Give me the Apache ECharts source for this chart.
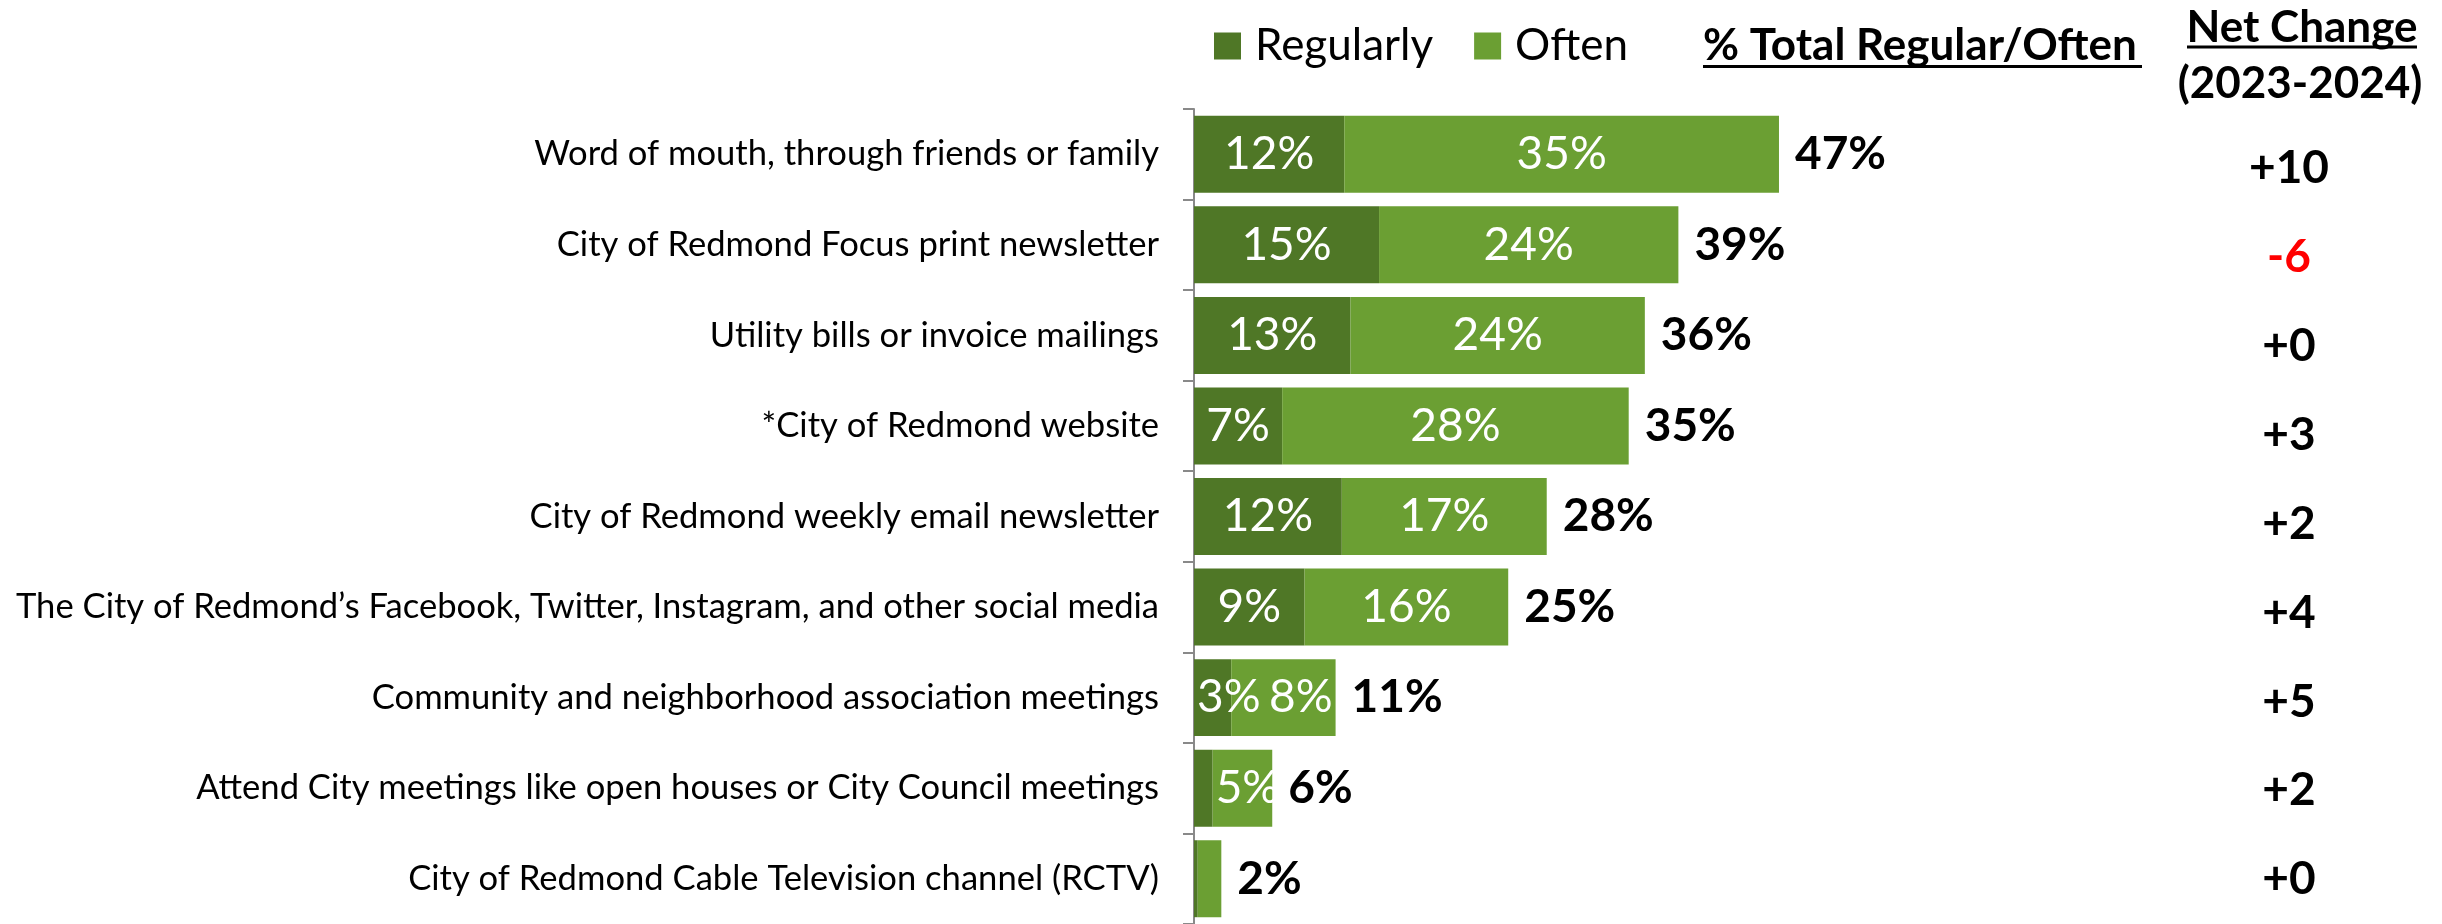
<!DOCTYPE html>
<html>
<head>
<meta charset="utf-8">
<script src="https://cdn.jsdelivr.net/npm/echarts@6/dist/echarts.min.js"></script>
<style>
html, body { margin: 0; padding: 0; background: #fff; }
#chart { width: 2442px; height: 924px; }
</style>
</head>
<body>
<div id="chart"></div>
<script>
var categories = [
	'Word of mouth, through friends or family',
	'City of Redmond Focus print newsletter',
	'Utility bills or invoice mailings',
	'*City of Redmond website',
	'City of Redmond weekly email newsletter',
	'The City of Redmond\u2019s Facebook, Twitter, Instagram, and other social media',
	'Community and neighborhood association meetings',
	'Attend City meetings like open houses or City Council meetings',
	'City of Redmond Cable Television channel (RCTV)'
];
var regularly = [12.1, 14.9, 12.6, 7.1, 11.9, 8.9, 3.0, 1.5, 0.3];
var often = [35.0, 24.1, 23.7, 27.9, 16.5, 16.4, 8.4, 4.8, 1.9];
var netChange = ['+10', '-6', '+0', '+3', '+2', '+4', '+5', '+2', '+0'];

var totals = [];
var anchor = [];
for (var i = 0; i < categories.length; i++) {
	totals.push(regularly[i] + often[i]);
	anchor.push(0);
}

var FONT = 'Lato, "Open Sans", sans-serif';
var darkGreen = '#4f7726';
var lightGreen = '#6b9f33';

function segLabel(p) {
	// small segments have no label in the original
	if (p.value < 2.5) return '';
	return Math.round(p.value) + '%';
}

// narrow segments: label pushed to one edge instead of centered
function segData(arr, midPos) {
	return arr.map(function(v) {
		if (v >= 2.5 && v < 5) {
			return { value: v, label: { position: 'insideLeft', distance: 3 } };
		}
		if (midPos && v >= 5 && v < 10) {
			return { value: v, label: { position: midPos, distance: 3 } };
		}
		return v;
	});
}

var chart = echarts.init(document.getElementById('chart'));
var option = {
	animation: false,
	textStyle: { fontFamily: FONT },
	legend: {
		data: ['Regularly', 'Often'],
		left: 1214,
		top: 24,
		padding: 0,
		itemWidth: 27,
		itemHeight: 27,
		itemGap: 41,
		icon: 'rect',
		textStyle: {
			fontFamily: FONT,
			fontSize: 44,
			color: '#000',
			padding: [0, 0, 0, 9]
		}
	},
	grid: [{
		left: 1194,
		top: 109,
		width: 1242,
		height: 817
	}, {
		left: 2289,
		top: 124,
		width: 1,
		height: 806
	}],
	xAxis: [{
		type: 'value',
		gridIndex: 0,
		min: 0,
		max: 100,
		show: false
	}, {
		type: 'value',
		gridIndex: 1,
		min: 0,
		max: 1,
		show: false
	}],
	yAxis: [{
		type: 'category',
		gridIndex: 0,
		inverse: true,
		data: categories,
		axisLine: {
			show: true,
			lineStyle: { color: '#898989', width: 2 }
		},
		axisTick: {
			show: true,
			length: 11,
			lineStyle: { color: '#898989', width: 2 }
		},
		axisLabel: {
			margin: 35,
			fontFamily: FONT,
			fontSize: 34.6,
			color: '#000'
		},
		splitLine: { show: false }
	}, {
		type: 'category',
		gridIndex: 1,
		inverse: true,
		position: 'left',
		data: netChange,
		axisLine: { show: false },
		axisTick: { show: false },
		splitLine: { show: false },
		axisLabel: {
			margin: 0,
			align: 'center',
			fontFamily: FONT,
			fontSize: 46,
			fontWeight: 'bold',
			color: function(value) {
				return value.charAt(0) === '-' ? '#ff0000' : '#000000';
			}
		}
	}],
	series: [{
		name: 'Regularly',
		type: 'bar',
		stack: 'share',
		xAxisIndex: 0,
		yAxisIndex: 0,
		barCategoryGap: '15%',
		data: segData(regularly),
		itemStyle: { color: darkGreen },
		label: {
			show: true,
			position: 'inside',
			color: '#fff',
			fontFamily: FONT,
			fontSize: 46,
			formatter: segLabel
		}
	}, {
		name: 'Often',
		type: 'bar',
		stack: 'share',
		xAxisIndex: 0,
		yAxisIndex: 0,
		data: segData(often, 'insideRight'),
		itemStyle: { color: lightGreen },
		label: {
			show: true,
			position: 'inside',
			color: '#fff',
			fontFamily: FONT,
			fontSize: 46,
			formatter: segLabel
		}
	}, {
		name: 'Total',
		type: 'bar',
		stack: 'share',
		xAxisIndex: 0,
		yAxisIndex: 0,
		data: anchor,
		itemStyle: { color: 'transparent' },
		label: {
			show: true,
			position: 'right',
			distance: 16,
			color: '#000',
			fontFamily: FONT,
			fontSize: 46,
			fontWeight: 'bold',
			formatter: function(p) {
				return Math.round(totals[p.dataIndex]) + '%';
			}
		}
	}],
	graphic: [{
		type: 'text',
		x: 1703,
		y: 46,
		style: {
			text: '% Total Regular/Often',
			font: 'bold 44px ' + FONT,
			fill: '#000',
			textAlign: 'left',
			textVerticalAlign: 'middle'
		}
	}, {
		type: 'line',
		shape: { x1: 1703, y1: 66.5, x2: 2142, y2: 66.5 },
		style: { stroke: '#000', lineWidth: 3 }
	}, {
		type: 'text',
		x: 2302,
		y: 28,
		style: {
			text: 'Net Change',
			font: 'bold 44px ' + FONT,
			fill: '#000',
			textAlign: 'center',
			textVerticalAlign: 'middle'
		}
	}, {
		type: 'line',
		shape: { x1: 2187, y1: 47, x2: 2417, y2: 47 },
		style: { stroke: '#000', lineWidth: 3 }
	}, {
		type: 'text',
		x: 2300,
		y: 84,
		style: {
			text: '(2023-2024)',
			font: 'bold 44px ' + FONT,
			fill: '#000',
			textAlign: 'center',
			textVerticalAlign: 'middle'
		}
	}]
};
chart.setOption(option);
</script>
</body>
</html>
